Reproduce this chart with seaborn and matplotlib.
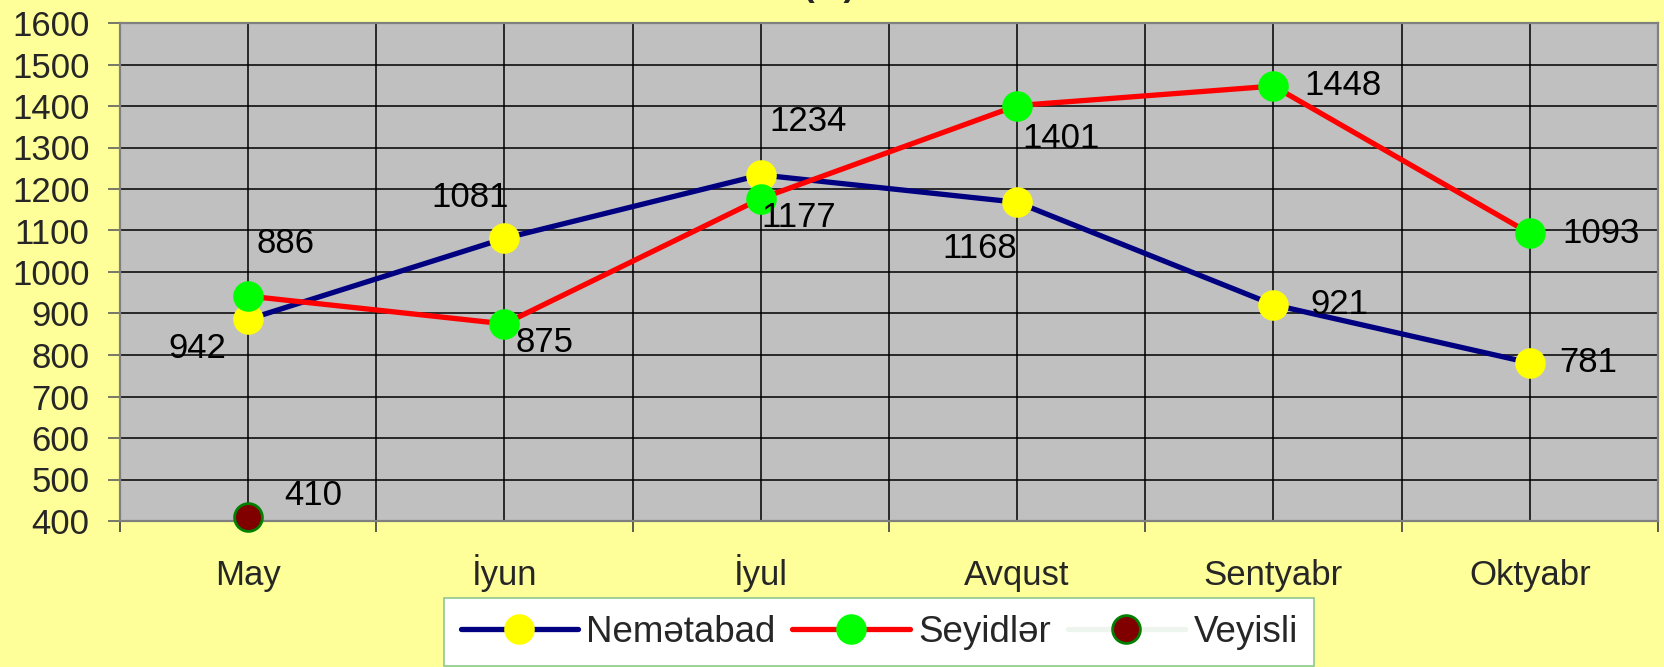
import numpy as np
import pandas as pd
import matplotlib.pyplot as plt
from matplotlib.ticker import FixedLocator
import seaborn as sns

# data
months = ['May', 'İyun', 'İyul', 'Avqust', 'Sentyabr', 'Oktyabr']
nematabad = [886, 1081, 1234, 1168, 921, 781]
seyidler = [942, 875, 1177, 1401, 1448, 1093]
veyisli = [410, np.nan, np.nan, np.nan, np.nan, np.nan]

# label offsets (pixels) for each value label
nem_offsets = [(37, 76), (-34, 41), (47, 53), (-37, -46), (66, 0), (58, 0)]
sey_offsets = [(-51, -52), (40, -19), (38, -19), (44, -33), (70, 1), (71, 0)]
vey_offsets = [(65, 21)]

sns.set_theme(style='white')
plt.rcParams['font.family'] = ['Liberation Sans', 'DejaVu Sans']
FS = 25

fig = plt.figure(figsize=(16.65, 6.67), dpi=100, facecolor='#FFFF99')
ax = fig.add_axes([120 / 1665, 1 - 521 / 667, 1538 / 1665, 498 / 667])
ax.set_facecolor('#C0C0C0')

df = pd.DataFrame({'month': months, 'Nemətabad': nematabad,
                   'Seyidlər': seyidler, 'Veyisli': veyisli})

series = [
    ('Nemətabad', '#000080', '#FFFF00', '#FFFF00'),
    ('Seyidlər', '#FF0000', '#00FF00', '#00FF00'),
    ('Veyisli', '#EEF4EE', '#800000', '#008000'),
]
for name, lc, mfc, mec in series:
    sns.lineplot(data=df, x='month', y=name, ax=ax, sort=False, label=name,
                 color=lc, linewidth=3.8, marker='o', markersize=20,
                 markerfacecolor=mfc, markeredgecolor=mec, markeredgewidth=2,
                 zorder=3, clip_on=False)

# value labels
for i, v in enumerate(nematabad):
    ax.annotate(str(v), (i, v), xytext=nem_offsets[i], textcoords='offset pixels',
                ha='center', va='center', fontsize=FS, color='black', zorder=4)
for i, v in enumerate(seyidler):
    ax.annotate(str(v), (i, v), xytext=sey_offsets[i], textcoords='offset pixels',
                ha='center', va='center', fontsize=FS, color='black', zorder=4)
ax.annotate(str(int(veyisli[0])), (0, veyisli[0]), xytext=vey_offsets[0],
            textcoords='offset pixels', ha='center', va='center', fontsize=FS,
            color='black', zorder=4)

ax.set_xlim(-0.5, len(months) - 0.5)
ax.set_ylim(400, 1600)
ax.set_yticks(range(400, 1601, 100))
ax.set_xticks(range(len(months)))
ax.set_xticklabels(months, va='baseline')
ax.xaxis.set_minor_locator(FixedLocator(np.arange(-0.5, len(months), 1.0)))
ax.set_xlabel('')
ax.set_ylabel('')

ax.grid(True, which='both', axis='x', color='black', linewidth=1.1)
ax.grid(True, which='major', axis='y', color='black', linewidth=1.1)
ax.set_axisbelow(True)

ax.tick_params(axis='y', which='major', left=True, length=9, width=1.2,
               color='#606060', pad=13, labelsize=FS)
ax.tick_params(axis='x', which='major', bottom=False, length=0, pad=46,
               labelsize=FS)
ax.tick_params(axis='x', which='minor', bottom=True, length=8, width=1.2,
               color='#404040')

for sp in ax.spines.values():
    sp.set_visible(True)
    sp.set_color('#808080')
    sp.set_linewidth(1.6)

ax.get_legend().remove()
handles, labels = ax.get_legend_handles_labels()
leg = fig.legend(handles, labels, loc='upper left',
                 bbox_to_anchor=(444 / 1665, 1 - 598 / 667), ncol=3,
                 fontsize=26.5, frameon=True, fancybox=False,
                 handlelength=3.2, handletextpad=0.22, columnspacing=0.45,
                 borderpad=0.45, borderaxespad=0)
leg.get_frame().set_facecolor('white')
leg.get_frame().set_edgecolor('#8FC88F')
leg.get_frame().set_linewidth(1.2)
leg.get_frame().set_alpha(1)

# title is cut off by the top edge in the reference
fig.text(0.498, 1 + 4 / 667, '(   )', ha='center', va='baseline',
         fontsize=FS, fontweight='bold')

fig.savefig('out.png', dpi=100, facecolor=fig.get_facecolor())
